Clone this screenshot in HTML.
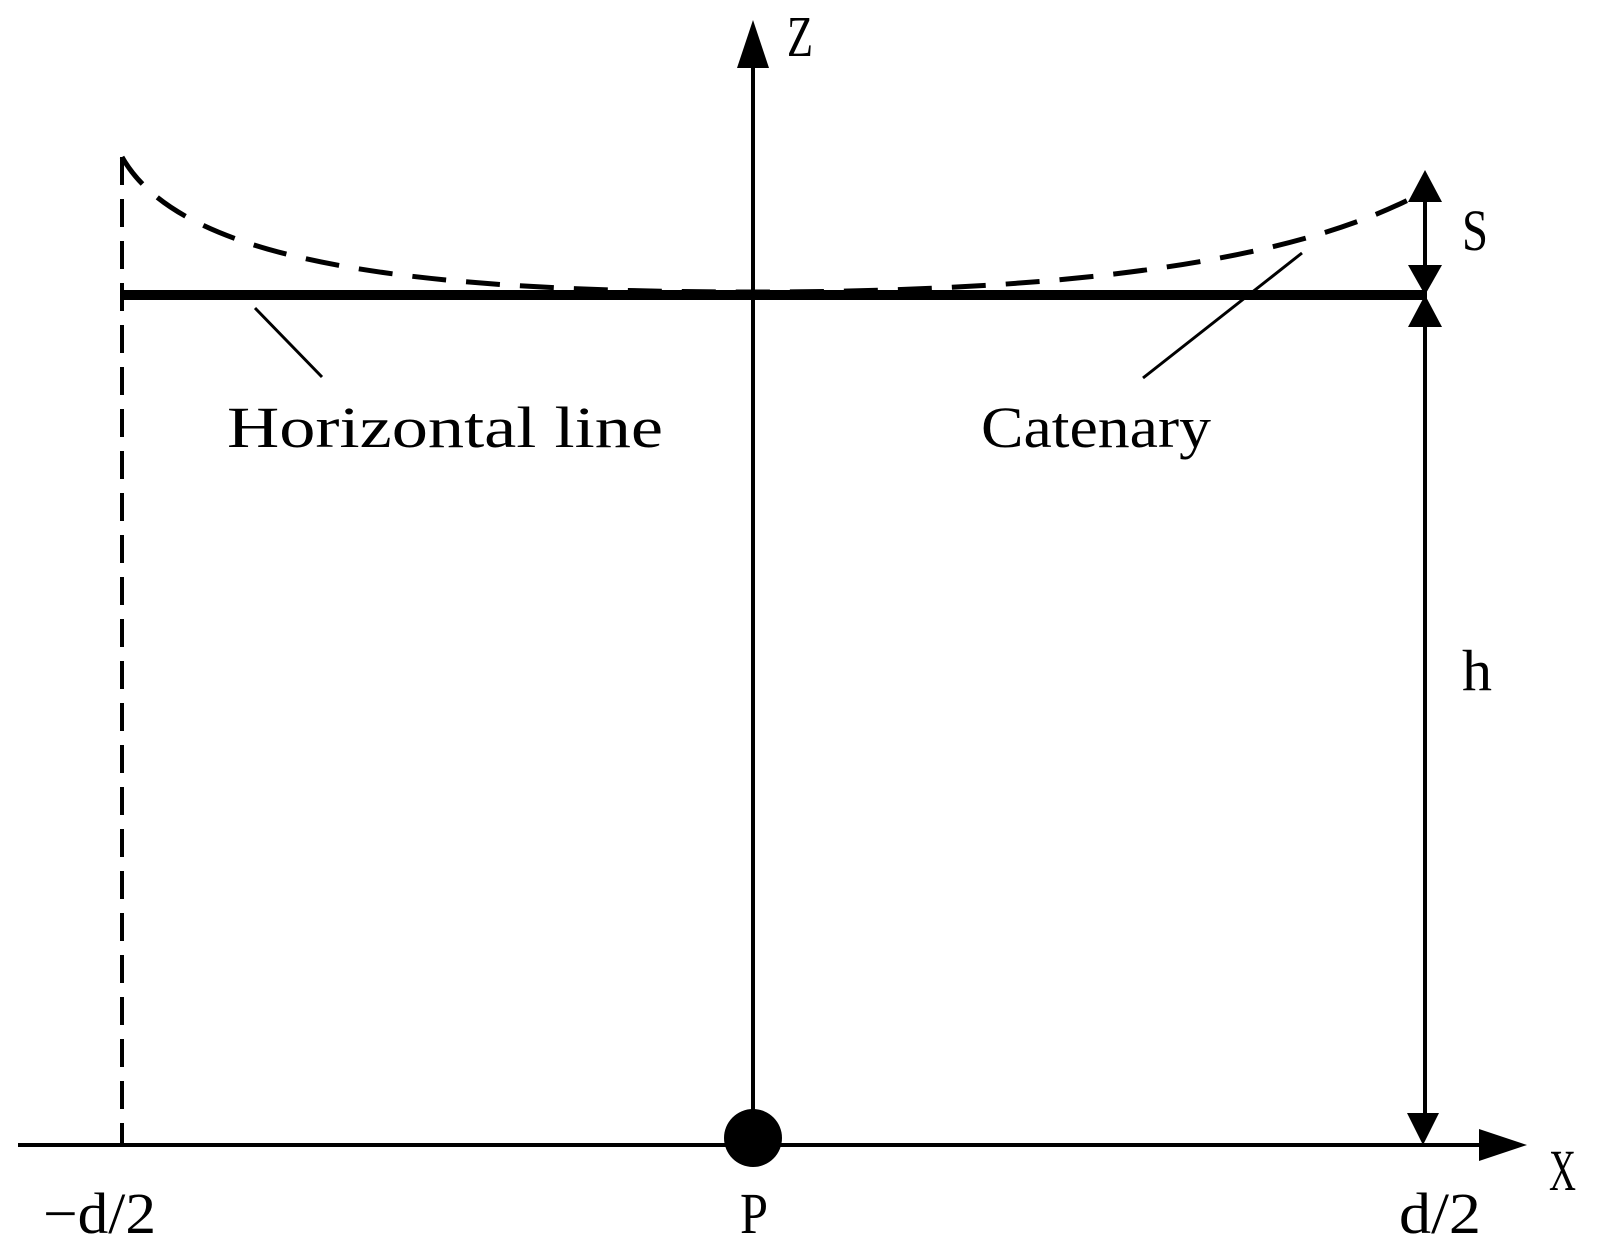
<!DOCTYPE html>
<html><head><meta charset="utf-8"><style>html,body{margin:0;padding:0;background:#fff}svg{display:block}</style></head>
<body>
<svg width="1602" height="1257" viewBox="0 0 1602 1257" xmlns="http://www.w3.org/2000/svg">
<g stroke="#000" fill="none">
<!-- left dashed vertical -->
<line x1="122" y1="157" x2="122" y2="1145" stroke-width="4" stroke-dasharray="28 14"/>
<!-- catenary -->
<path d="M122,157 C180,260 400,292 753,292 C1100,292 1300,255 1412,198" stroke-width="5" stroke-dasharray="34 20"/>
<!-- horizontal line -->
<line x1="122" y1="295" x2="1425" y2="295" stroke-width="10"/>
<!-- Z axis -->
<line x1="753" y1="66" x2="753" y2="1138" stroke-width="4"/>
<!-- X axis -->
<line x1="18" y1="1145" x2="1482" y2="1145" stroke-width="4"/>
<!-- right vertical dimension -->
<line x1="1425" y1="200" x2="1425" y2="1115" stroke-width="4"/>
<!-- pointers -->
<line x1="255" y1="308" x2="322" y2="377" stroke-width="3"/>
<line x1="1302" y1="253" x2="1143" y2="378" stroke-width="3"/>
</g>
<g fill="#000">
<polygon points="753,20 737,68 769,68"/>
<polygon points="1527,1145 1479,1129 1479,1161"/>
<polygon points="1425,170 1408,202 1442,202"/>
<polygon points="1425,295 1408,265 1442,265"/>
<polygon points="1425,295 1408,327 1442,327"/>
<polygon points="1423,1145 1407,1113 1439,1113"/>
<circle cx="753" cy="1138" r="29"/>
</g>
<g font-family="Liberation Serif, serif" font-size="58" fill="#000">
<text x="227" y="447" textLength="436" lengthAdjust="spacingAndGlyphs">Horizontal line</text>
<text x="981" y="447" textLength="230" lengthAdjust="spacingAndGlyphs">Catenary</text>
<text x="787" y="56" textLength="26" lengthAdjust="spacingAndGlyphs">Z</text>
<text x="1462" y="250" textLength="26" lengthAdjust="spacingAndGlyphs">S</text>
<text x="1462" y="690" textLength="30" lengthAdjust="spacingAndGlyphs">h</text>
<text x="1549" y="1190" textLength="27" lengthAdjust="spacingAndGlyphs">X</text>
<text x="43" y="1233" textLength="113" lengthAdjust="spacingAndGlyphs">−d/2</text>
<text x="740" y="1233" textLength="28" lengthAdjust="spacingAndGlyphs">P</text>
<text x="1399" y="1233" textLength="82" lengthAdjust="spacingAndGlyphs">d/2</text>
</g>
</svg>
</body></html>
